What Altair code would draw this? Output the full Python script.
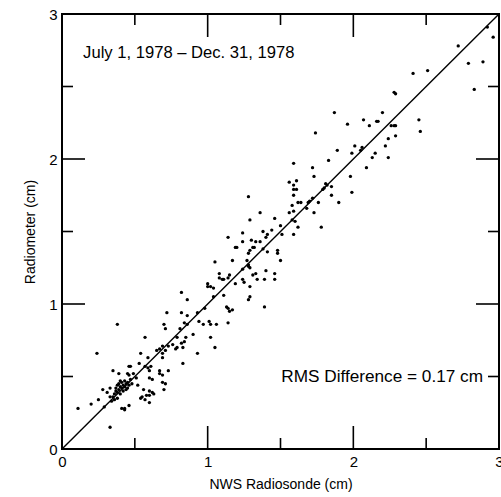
import altair as alt
import pandas as pd

# NWS radiosonde (x) vs radiometer (y), cm
nws_low = [0.38,0.70,0.57,0.24,0.54,0.69,0.67,0.71,0.59,0.73,
           0.35,0.46,0.47,0.53,0.57,0.59,0.60,0.61,0.39,0.45,
           0.46,0.49,0.67,0.67,0.69,0.73,0.51,0.62,0.60,0.69,
           0.33,0.28,0.31,0.25,0.56,0.60,0.62,0.58,0.60,0.55,
           0.63,0.54,0.57,0.60,0.20,0.11,0.29,0.41,0.43,0.43,
           0.46,0.33,0.70,0.71,0.52]
rad_low = [0.86,0.86,0.77,0.66,0.66,0.71,0.69,0.68,0.63,0.71,
           0.54,0.57,0.57,0.59,0.57,0.56,0.54,0.57,0.52,0.52,
           0.51,0.52,0.54,0.52,0.51,0.54,0.49,0.48,0.49,0.46,
           0.42,0.41,0.39,0.34,0.41,0.40,0.39,0.37,0.37,0.36,
           0.38,0.35,0.34,0.32,0.31,0.28,0.29,0.28,0.28,0.27,
           0.30,0.15,0.41,0.45,0.44]

nws_cluster = [0.35,0.36,0.37,0.37,0.38,0.38,0.39,0.39,0.40,0.40,
               0.41,0.41,0.42,0.42,0.43,0.43,0.44,0.44,0.45,0.46,
               0.47,0.36,0.34,0.38,0.45,0.48,0.33,0.40]
rad_cluster = [0.36,0.38,0.40,0.42,0.44,0.39,0.41,0.45,0.43,0.38,
               0.46,0.42,0.44,0.40,0.47,0.43,0.45,0.41,0.46,0.44,
               0.48,0.34,0.33,0.35,0.42,0.45,0.36,0.47]

nws_mid = [1.19,1.20,1.29,1.28,1.31,1.05,1.17,1.27,1.24,1.29,
           1.08,1.08,1.10,1.11,1.15,1.24,1.25,1.33,1.34,1.19,
           1.29,1.00,1.02,1.00,1.04,1.11,1.04,0.82,1.29,1.28,
           0.86,1.13,1.14,1.17,1.15,0.98,0.93,0.72,0.82,0.86,
           0.94,0.97,1.01,1.02,1.06,1.14,0.71,0.84,0.86,0.81,
           0.90,0.79,0.85,0.84,0.82,0.83,1.02,0.76,0.79,0.78,
           0.65,0.69,0.93,1.05,0.69,0.83,1.39]
rad_mid = [1.39,1.39,1.37,1.35,1.39,1.29,1.30,1.30,1.24,1.25,
           1.21,1.18,1.17,1.17,1.20,1.17,1.15,1.21,1.17,1.14,
           1.12,1.14,1.12,1.12,1.11,1.06,1.05,1.08,1.05,1.03,
           1.03,0.98,0.97,0.96,0.95,0.97,0.94,0.94,0.94,0.92,
           0.88,0.86,0.88,0.86,0.86,0.87,0.83,0.87,0.86,0.83,
           0.79,0.77,0.77,0.74,0.73,0.70,0.77,0.72,0.70,0.69,
           0.68,0.66,0.66,0.70,0.63,0.59,0.98]

nws_upper = [1.73,1.56,1.61,1.59,1.59,1.61,1.28,1.59,1.81,1.82,
             1.80,1.79,1.72,1.62,1.64,1.69,1.70,1.58,1.56,1.59,
             1.76,1.68,1.73,1.36,1.46,1.29,1.58,1.60,1.50,1.62,
             1.38,1.41,1.40,1.44,1.51,1.24,1.78,1.59,1.14,1.30,
             1.33,1.36,1.24,1.32,1.38,1.48,1.48,1.41,1.50,1.28,
             1.28,1.40,1.46,1.31,1.14,1.39,1.46,1.59]
rad_upper = [1.88,1.84,1.85,1.82,1.79,1.79,1.74,1.75,1.83,1.82,
             1.80,1.79,1.73,1.70,1.70,1.70,1.71,1.68,1.63,1.64,
             1.70,1.66,1.63,1.63,1.59,1.58,1.58,1.57,1.54,1.53,
             1.50,1.48,1.46,1.51,1.48,1.49,1.53,1.48,1.46,1.44,
             1.43,1.43,1.43,1.39,1.38,1.37,1.35,1.36,1.30,1.27,
             1.26,1.23,1.21,1.20,1.18,1.17,1.17,1.97]

nws_high = [1.87,1.74,1.96,2.07,2.11,2.16,2.17,2.20,2.26,2.28,
            2.29,2.29,2.24,2.22,2.01,2.06,2.05,1.99,1.89,2.15,
            2.24,2.13,1.83,2.09,1.72,1.98,1.85,1.85,1.99,1.90]
rad_high = [2.32,2.18,2.24,2.27,2.23,2.26,2.26,2.32,2.23,2.23,
            2.23,2.16,2.14,2.09,2.09,2.08,2.06,2.04,2.06,2.04,
            2.01,2.01,1.99,1.94,1.94,1.88,1.81,1.75,1.77,1.70]

nws_top = [2.72,2.79,2.89,2.41,2.51,2.28,2.29,2.83,2.45,2.46,2.92,2.96]
rad_top = [2.78,2.66,2.67,2.59,2.61,2.46,2.45,2.48,2.27,2.19,2.91,2.84]

major_ticks = [1, 2]
minor_ticks = [0.5, 1.5, 2.5]
axis_labels = [0, 1, 2, 3]
period_text = "July 1, 1978 \u2013 Dec. 31, 1978"
rms_text = "RMS Difference = 0.17 cm"

W, H = 437, 435
FONT = "Liberation Sans"

df = pd.DataFrame({
    "nws": nws_low + nws_cluster + nws_mid + nws_upper + nws_high + nws_top,
    "rad": rad_low + rad_cluster + rad_mid + rad_upper + rad_high + rad_top,
})

xs = alt.Scale(domain=[0, 3], nice=False, zero=False)
ys = alt.Scale(domain=[0, 3], nice=False, zero=False)

ax_x = alt.Axis(title="NWS Radiosonde (cm)", values=axis_labels, format="d",
                ticks=False, domain=False, grid=False, labelFlush=False,
                labelOverlap=False, labelPadding=5, titlePadding=8)
ax_y = alt.Axis(title="Radiometer (cm)", values=axis_labels, format="d",
                ticks=False, domain=False, grid=False, labelFlush=False,
                labelOverlap=False, labelPadding=5, titlePadding=11)

points = alt.Chart(df).mark_circle(size=11, color="black", opacity=1).encode(
    x=alt.X("nws:Q", scale=xs, axis=ax_x),
    y=alt.Y("rad:Q", scale=ys, axis=ax_y),
)

diag = alt.Chart(pd.DataFrame({"v": [0, 3]})).mark_line(color="black", strokeWidth=1.4).encode(
    x=alt.X("v:Q", scale=xs, axis=ax_x),
    y=alt.Y("v:Q", scale=ys, axis=ax_y),
)


def tick_layer(vals, side, length):
    d = pd.DataFrame({"t": vals})
    base = alt.Chart(d).mark_rule(color="black", strokeWidth=1.6)
    if side == "left":
        return base.encode(y=alt.Y("t:Q", scale=ys, axis=ax_y), x=alt.value(0), x2=alt.value(length))
    if side == "right":
        return base.encode(y=alt.Y("t:Q", scale=ys, axis=ax_y), x=alt.value(W), x2=alt.value(W - length))
    if side == "bottom":
        return base.encode(x=alt.X("t:Q", scale=xs, axis=ax_x), y=alt.value(H), y2=alt.value(H - length))
    return base.encode(x=alt.X("t:Q", scale=xs, axis=ax_x), y=alt.value(0), y2=alt.value(length))


ticks = []
for side in ["left", "right", "bottom", "top"]:
    ticks.append(tick_layer(major_ticks, side, 23))
    ticks.append(tick_layer(minor_ticks, side, 11))

t1 = alt.Chart(pd.DataFrame({"x": [0.145], "y": [2.73], "t": [period_text]})).mark_text(
    align="left", baseline="middle", fontSize=16.6, font=FONT, color="black"
).encode(x=alt.X("x:Q", scale=xs, axis=ax_x), y=alt.Y("y:Q", scale=ys, axis=ax_y), text="t:N")

t2 = alt.Chart(pd.DataFrame({"x": [2.89], "y": [0.50], "t": [rms_text]})).mark_text(
    align="right", baseline="middle", fontSize=17.2, font=FONT, color="black"
).encode(x=alt.X("x:Q", scale=xs, axis=ax_x), y=alt.Y("y:Q", scale=ys, axis=ax_y), text="t:N")

chart = alt.layer(points, diag, *ticks, t1, t2).properties(
    width=W, height=H,
    padding={"left": 62, "top": 14, "right": 2, "bottom": 48},
    autosize=alt.AutoSizeParams(type="none"),
).configure_view(
    stroke="black", strokeWidth=2
).configure_axis(
    labelFont=FONT, labelFontSize=15, labelColor="black",
    titleFont=FONT, titleFontSize=14, titleFontWeight="normal", titleColor="black",
)

chart.save("out.html", embed_options={"renderer": "svg", "actions": False})
